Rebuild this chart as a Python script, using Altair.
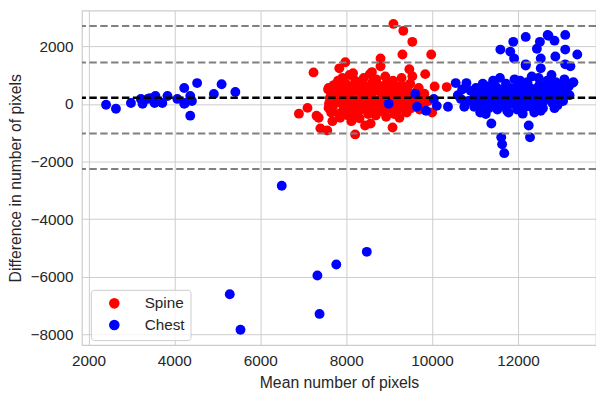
import altair as alt
import pandas as pd

# ---- data ----
spine_x = [9100, 9330, 9540, 9310, 9980, 8800, 7980, 7240, 7840, 8160, 8550, 8800, 9470, 9540, 9840, 10340,
           6900, 7100, 7310, 7400, 7560, 8210, 8440, 8570, 9080, 9240, 10000, 8140, 7860, 7590,
           7590, 7750, 8140, 7980, 7360,
           7620, 7580, 7650, 7600, 7710, 7690, 7730, 7680, 7820, 7790, 7830, 7810,
           7910, 7880, 7930, 7900, 8020, 7990, 8040, 8010, 7970, 8110, 8090, 8130, 8080, 8120,
           8220, 8190, 8230, 8210, 8320, 8290, 8310, 8330, 8410, 8380, 8420, 8400,
           8520, 8490, 8510, 8530, 8610, 8580, 8620, 8600, 8710, 8690, 8730, 8700,
           8820, 8790, 8810, 8920, 8890, 8910, 8930, 9020, 8990, 9010,
           9110, 9090, 9120, 9100, 9220, 9190, 9210, 9320, 9290, 9310,
           9420, 9390, 9410, 9520, 9490, 9510, 9620, 9590, 9720, 9690, 9710, 9820, 9790, 9910, 10060,
           7650, 7750, 7850, 7950, 8050, 8150, 8250, 8350, 8450, 8550, 8650, 8750, 8850, 8950, 9050,
           9150, 9250, 9350, 9450, 9550, 8050, 8350, 8650, 8950, 9250, 7700, 8250, 8750, 9150, 7900]
spine_y = [2770, 2530, 2150, 1710, 1710, 1570, 1440, 1090, 1230, 1060, 1030, 1300, 1200, 960, 1030, 580,
           -340, -140, -410, -850, -920, -1060, -750, -680, -820, -480, -300, -550, -480, -140,
           550, 100, -240, 340, -480,
           200, 500, -300, 0, 650, -100, 300, -600, 400, 50, -350, 800,
           900, 200, -200, 550, 100, 700, -400, 350, -50, 600, 250, -150, 1000, -600,
           450, 0, -300, 800, 150, 650, -500, 350, 900, 300, -100, 500,
           0, 600, -350, 200, 750, 300, -150, 1100, 450, -400, 100, 850,
           200, 600, -250, 550, 0, 950, -450, 300, 700, -150,
           100, 800, -350, 450, 600, 200, -200, 350, 900, -50,
           500, 100, -300, 250, 700, -150, 400, 0, 200, 550, -200, 350, -100, 100, 600,
           350, 450, 250, -100, 450, 150, 550, -200, 100, 400, -50, 650, 300, -150, 500,
           250, -50, 600, 300, 50, -250, 750, 500, 750, 450, 50, -150, -100, -100, 650]

chest_x = [2410, 2640, 2990, 3260, 3220, 3430, 3560, 3720, 3840, 4070, 4230, 4250, 4370, 4530, 4370,
           4920, 5100, 5420, 4410, 3540, 4230, 3380,
           6500, 5290, 5540, 7330, 7770, 8480, 7380,
           8990, 9610, 9650, 9860, 10040, 10110, 10370, 10550, 10800, 10970, 10670, 11010, 11200,
           11380, 11610, 11630, 11680, 12250, 12280, 11590, 11820, 11910, 11890, 12180, 12510, 12440,
           12710, 12850, 13100, 13100, 13380, 12530, 12870, 12530, 12180, 13290, 13100, 13220,
           12110, 12530, 12800, 13030, 12690, 13260, 12180,
           11000, 11020, 10980, 11100, 11080, 11120, 11200, 11220, 11180, 11300, 11280, 11320,
           11400, 11380, 11420, 11500, 11520, 11480, 11600, 11620, 11580, 11700, 11680, 11720,
           11800, 11820, 11780, 11900, 11880, 11920, 12000, 12020, 11980, 12100, 12080,
           12200, 12220, 12180, 12300, 12280, 12320, 12400, 12420, 12380, 12500, 12520, 12480,
           12600, 12620, 12580, 12700, 12680, 12800, 12820, 12780, 12900, 12920, 12880,
           13000, 13020, 13100, 13080, 13200, 13180,
           10600, 10700, 10850, 10900, 10750,
           11050, 11150, 11250, 11350, 11450, 11550, 11650, 11750, 11850, 11950, 12050, 12150, 12250, 12350,
           12450, 12550, 12650, 12750, 12850, 12950, 13050, 13150, 11250, 11750, 12350, 12850, 11450, 12050]
chest_y = [-30, -170, 30, 0, 170, 200, 270, 30, 270, 170, 550, 30, 270, 720, -410,
           340, 680, 410, 100, 30, 0, 170,
           -2840, -6600, -7830, -5950, -5570, -5130, -7280,
           0, 340, -100, -240, 170, -70, -100, 720, 720, 380, 170, 0, -240,
           -680, -1160, -1400, -1710, -750, -1160, 1880, 1810, 1570, 2150, 2320, 2150, 1910,
           2360, 2190, 2390, 1880, 1710, 1570, 1640, 1230, 1330, 750, 1370, 1300,
           -340, -240, 30, 340, 2390, 720, 1370,
           300, 550, -100, 150, 450, -300, 350, 0, 700, 200, 600, -150,
           450, 50, 800, 250, -200, 600, 500, 100, 900, 300, -100, 700,
           150, 550, -300, 400, 0, 850, 250, 650, -200, 500, 100,
           300, 750, -100, 150, 550, 950, 400, 0, -300, 650, 250, 900,
           100, 500, -150, 350, 800, 550, 200, 1000, 400, -50, 750,
           600, 250, 450, 850, 300, 600,
           300, 500, 100, 450, -100,
           200, 0, 500, 350, -50, 400, 150, 450, 250, 550, 0, 350, 200, 400,
           550, 100, 650, 200, 450, 250, 100, 600, -350, -250, -150, -150, 650, 800]

mean_diff = [215]
limit_values = [2700, 1436, -1025, -2256]

groups = ["Spine", "Chest"]
colors = ["#ff0000", "#0000ff"]

pts = pd.DataFrame({
    "mean": spine_x + chest_x,
    "diff": spine_y + chest_y,
    "group": ["Spine"] * len(spine_x) + ["Chest"] * len(chest_x),
})
mean_df = pd.DataFrame({"y": mean_diff})
lim_df = pd.DataFrame({"y": limit_values})

FONT = "Liberation Sans"
TXT = "#262626"

xscale = alt.Scale(domain=[1850, 13816], nice=False, zero=False)
yscale = alt.Scale(domain=[-8360, 3232], nice=False, zero=False)

points = alt.Chart(pts).mark_circle(size=100, opacity=1).encode(
    x=alt.X("mean:Q", scale=xscale,
            axis=alt.Axis(title="Mean number of pixels", values=[2000, 4000, 6000, 8000, 10000, 12000],
                          format="d")),
    y=alt.Y("diff:Q", scale=yscale,
            axis=alt.Axis(title="Difference in number of pixels",
                          values=[-8000, -6000, -4000, -2000, 0, 2000], format="d")),
    color=alt.Color("group:N", scale=alt.Scale(domain=groups, range=colors),
                    legend=alt.Legend(title=None, orient="none", legendX=9, legendY=283)),
)

lims = alt.Chart(lim_df).mark_rule(color="#808080", strokeWidth=2, strokeDash=[7.5, 3.5]).encode(
    y=alt.Y("y:Q", scale=yscale))
meanline = alt.Chart(mean_df).mark_rule(color="#000000", strokeWidth=2.5, strokeDash=[7.5, 3.5]).encode(
    y=alt.Y("y:Q", scale=yscale))

chart = alt.layer(points, lims, meanline).properties(
    width=521, height=339,
    autosize=alt.AutoSizeParams(type="none"),
    padding={"left": 75, "top": 0, "right": 0, "bottom": 48},
).configure_view(
    stroke="#cccccc", strokeWidth=1.25
).configure_axis(
    grid=True, gridColor="#cccccc", gridWidth=1, domain=False, ticks=False,
    labelFont=FONT, labelFontSize=15.5, labelColor=TXT, labelPadding=9,
    titleFont=FONT, titleFontSize=16, titleColor=TXT, titleFontWeight="normal",
).configure_axisX(titlePadding=6).configure_axisY(titlePadding=7
).configure_legend(
    labelFont=FONT, labelFontSize=15.5, labelColor=TXT, symbolType="circle", symbolSize=115,
    symbolStrokeWidth=0, symbolOpacity=1, padding=6, symbolOffset=10, labelOffset=23,
    rowPadding=5, strokeColor="#cccccc", fillColor="rgba(255,255,255,0.8)", cornerRadius=3,
)

chart.save("out.html", embed_options={"renderer": "svg", "actions": False})
